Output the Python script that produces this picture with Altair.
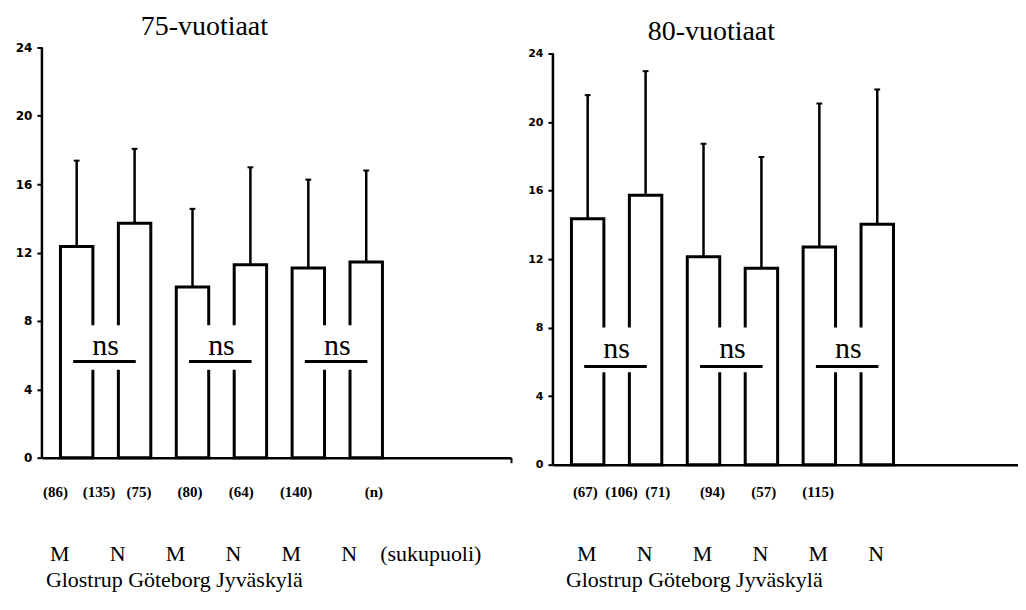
import altair as alt
import pandas as pd

# ---------------- data ----------------
cities = ["Glostrup", "Göteborg", "Jyväskylä"]
sexes = ["M", "N", "M", "N", "M", "N"]
titles = ["75-vuotiaat", "80-vuotiaat"]
mean_75 = [12.36, 13.72, 9.99, 11.29, 11.10, 11.45]
sd_75 = [5.02, 4.35, 4.57, 5.70, 5.17, 5.35]
n_75 = [86, 135, 75, 80, 64, 140]
mean_80 = [14.36, 15.72, 12.13, 11.47, 12.71, 14.04]
sd_80 = [7.21, 7.25, 6.60, 6.49, 8.37, 7.86]
n_80 = [67, 106, 71, 94, 57, 115]
y_ticks = [0, 4, 8, 12, 16, 20, 24]
y_top = 24
ns_label = "ns"
n_unit = "(n)"
sex_caption = "(sukupuoli)"

SERIF = "Liberation Serif"
SANS = "DejaVu Sans"
NBSP = "\u00a0"


def make_panel(title, means, sds, ns, *, width, height, y_max, title_offset, title_dx,
               x_max, end_tick, n_x, n_gaps, n_tail, sex_dx, caption,
               rows, gap, line_y, text_y, city_x, label_size):
    pos = [i + 0.6 for i in range(len(means))]
    bars = pd.DataFrame({
        "pos": pos,
        "x0": [p - 0.28 for p in pos],
        "x1": [p + 0.28 for p in pos],
        "c0": [p - 0.05 for p in pos],
        "c1": [p + 0.05 for p in pos],
        "mean": means,
        "top": [m + s for m, s in zip(means, sds)],
        "sex": sexes,
    })
    pm = pos[0::2]
    pn = pos[1::2]
    pairs = pd.DataFrame({
        "xm": pm,
        "xn": pn,
        "la": [p - 0.06 for p in pm],
        "lb": [p + 0.02 for p in pn],
        "mid": [(a + b) / 2 for a, b in zip(pm, pn)],
        "lo": [gap[0]] * len(pm),
        "hi": [gap[1]] * len(pm),
        "ly": [line_y] * len(pm),
        "ty": [text_y] * len(pm),
        "t": [ns_label] * len(pm),
    })

    xs = alt.Scale(domain=[0, x_max], nice=False, zero=False)
    ys = alt.Scale(domain=[0, y_max], nice=False, zero=True)

    if end_tick:
        x_axis = alt.Axis(values=[x_max], labels=False, title=None, ticks=True,
                          tickSize=5, tickWidth=2, tickColor="black", grid=False,
                          domainColor="black", domainWidth=2.5)
    else:
        x_axis = alt.Axis(labels=False, title=None, ticks=False, grid=False,
                          domainColor="black", domainWidth=2.5)
    y_axis = alt.Axis(values=y_ticks, title=None, grid=False, domain=False,
                      tickColor="black", tickWidth=2, tickSize=5,
                      labelFont=SANS, labelFontWeight="bold", labelFontSize=label_size,
                      labelColor="black", labelPadding=5)

    def X(f):
        return alt.X(f, scale=xs, axis=x_axis, title=None)

    def Y(f):
        return alt.Y(f, scale=ys, axis=y_axis, title=None)

    base = alt.Chart(bars)
    bar_layer = base.mark_bar(fill="white", stroke="black", strokeWidth=3).encode(
        x=X("x0:Q"), x2="x1:Q", y=Y("mean:Q"), y2=alt.datum(0),
    )
    err = base.mark_rule(color="black", strokeWidth=2.5).encode(
        x=X("pos:Q"), y=Y("mean:Q"), y2="top:Q",
    )
    cap = base.mark_rule(color="black", strokeWidth=2).encode(
        x=X("c0:Q"), x2="c1:Q", y=Y("top:Q"),
    )
    # vertical axis line from 0 to the top tick
    yline = alt.Chart(pd.DataFrame({"x": [0], "y0": [0], "y1": [y_top]})).mark_rule(
        color="black", strokeWidth=2.5).encode(
        x=X("x:Q"), y=Y("y0:Q"), y2="y1:Q")
    pbase = alt.Chart(pairs)
    blank = pbase.mark_rect(fill="white", strokeWidth=0).encode(
        x=X("xm:Q"), x2="xn:Q", y=Y("lo:Q"), y2="hi:Q",
    )
    ns_line = pbase.mark_rule(color="black", strokeWidth=3).encode(
        x=X("la:Q"), x2="lb:Q", y=Y("ly:Q"),
    )
    ns_text = pbase.mark_text(font=SERIF, fontSize=30, baseline="alphabetic",
                              align="center", color="black").encode(
        x=X("mid:Q"), y=Y("ty:Q"), text="t:N",
    )

    # n row, typed as one line
    parts = [f"({v})" for v in ns]
    n_str = parts[0]
    for g, p in zip(n_gaps, parts[1:]):
        n_str += NBSP * g + p
    if n_tail:
        n_str += NBSP * n_tail + n_unit
    n_row = alt.Chart(pd.DataFrame({"t": [n_str]})).mark_text(
        font=SERIF, fontSize=15, fontWeight="bold", align="left",
        baseline="alphabetic", color="black").encode(
        x=alt.value(n_x), y=alt.value(height + rows[0]), text="t:N")

    sex_row = base.mark_text(font=SERIF, fontSize=22, align="center",
                             baseline="alphabetic", dx=sex_dx, color="black").encode(
        x=X("pos:Q"), y=alt.value(height + rows[1]), text="sex:N",
    )
    city_row = alt.Chart(pd.DataFrame({"t": [" ".join(cities)]})).mark_text(
        font=SERIF, fontSize=22, align="left", baseline="alphabetic",
        color="black").encode(
        x=alt.value(city_x), y=alt.value(height + rows[2]), text="t:N")

    layers = [bar_layer, err, cap, yline, blank, ns_line, ns_text, n_row, sex_row, city_row]
    if caption:
        cap_row = alt.Chart(pd.DataFrame({"t": [sex_caption], "p": [pos[-1]]})).mark_text(
            font=SERIF, fontSize=22, align="left", baseline="alphabetic",
            dx=14, color="black").encode(
            x=X("p:Q"), y=alt.value(height + rows[1]), text="t:N")
        layers.append(cap_row)

    return alt.layer(*layers).properties(
        width=width, height=height,
        title=alt.TitleParams(text=title, anchor="start", frame="group", dx=title_dx,
                              offset=title_offset, font=SERIF, fontSize=28,
                              fontWeight="normal", color="black"),
    )


left = make_panel(titles[0], mean_75, sd_75, n_75, width=470, height=411, y_max=24,
                  title_offset=0.5, title_dx=99, x_max=8.1, end_tick=True,
                  n_x=1, n_gaps=[4, 3, 7, 7, 7], n_tail=14, sex_dx=-17,
                  caption=True, rows=[39, 104, 130], gap=(5.15, 7.75),
                  line_y=5.63, text_y=6.0, city_x=4, label_size=12)
right = make_panel(titles[1], mean_80, sd_80, n_80, width=466, height=418,
                   y_max=24 * 418 / 412,
                   title_offset=2, title_dx=95, x_max=8.03, end_tick=False,
                   n_x=20, n_gaps=[2, 2, 8, 7, 7], n_tail=0, sex_dx=-1,
                   caption=False, rows=[32, 97, 123], gap=(5.4, 8.0),
                   line_y=5.73, text_y=6.2, city_x=13, label_size=11)

chart = alt.hconcat(left, right, spacing=15).properties(
    padding={"left": 7, "top": 4, "right": 0, "bottom": 0}
).configure_view(stroke=None)

chart.save("out.html", embed_options={"renderer": "svg", "actions": False})
